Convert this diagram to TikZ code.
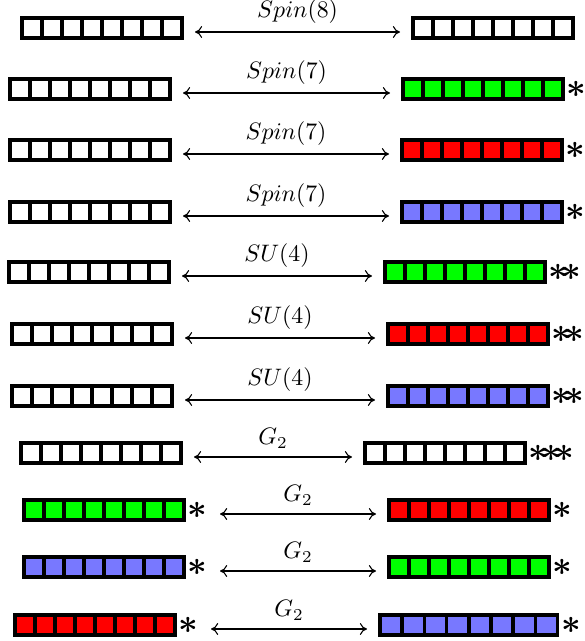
\documentclass[tikz,border=0pt]{standalone}
\usepackage{amsmath,amssymb,bm}
\usepackage{tikz}
\usetikzlibrary{positioning,arrows.meta}
\usepackage[dvipsnames]{xcolor}
\definecolor{cgreen}{RGB}{0,255,0}
\definecolor{cred}{RGB}{255,0,0}
\definecolor{cblue}{RGB}{120,120,255}

\tikzset{
  tabbox/.style = {rectangle, inner sep = 0pt, outer sep = 0pt,
                   minimum height = 24*0.42pt},
  cell/.style = {draw = black, line width = 3.5*0.42pt},
  stars/.style = {inner sep = 0.5pt, font = \Large\boldmath},
  link/.style = {{To[length=3pt,width=5pt]}-{To[length=3pt,width=5pt]}, line width = 0.45pt,
                 shorten <= 11*0.42pt, shorten >= 11*0.42pt}
}

% #1 cell width, #2 name, #3 left edge, #4 centre, #5 colour
\newcommand{\tableau}[5][20]{%
  \node[tabbox, minimum width = {(8*#1+4)*0.42pt}] (#2) at ({#3+4*#1+2},#4) {};
  \foreach \k in {0,...,7}
    \draw[cell, fill = #5] ({#3+2+#1*\k},{#4-10}) rectangle ++(#1,20);
}

\begin{document}
\begin{tikzpicture}[x = 0.42pt, y = -0.42pt]
\useasboundingbox (0,0) rectangle (584,641);

% Spin(8)
\tableau{L1}{20}{28}{white}
\tableau{R1}{411}{28}{white}
\draw[link] ([yshift = -4*0.42pt]L1.east) -- node[above] {$Spin(8)$} ([yshift = -4*0.42pt]R1.west);

% Spin(7)
\tableau{L2}{8}{89}{white}
\tableau{R2}{401}{89}{cgreen}
\node[stars, right = 0pt of R2] (R2s) {$\ast$};
\draw[link] ([yshift = -4*0.42pt]L2.east) -- node[above] {$Spin(7)$} ([yshift = -4*0.42pt]R2.west);

\tableau{L3}{8}{150}{white}
\tableau{R3}{400}{150}{cred}
\node[stars, right = 0pt of R3] (R3s) {$\ast$};
\draw[link] ([yshift = -4*0.42pt]L3.east) -- node[above] {$Spin(7)$} ([yshift = -4*0.42pt]R3.west);

\tableau{L4}{8}{212}{white}
\tableau{R4}{400}{212}{cblue}
\node[stars, right = 0pt of R4] (R4s) {$\ast$};
\draw[link] ([yshift = -4*0.42pt]L4.east) -- node[above] {$Spin(7)$} ([yshift = -4*0.42pt]R4.west);

% SU(4)
\tableau{L5}{7}{272}{white}
\tableau{R5}{383}{272}{cgreen}
\node[stars, right = 0pt of R5] (R5s) {${\ast}\!{\ast}$};
\draw[link] ([yshift = -4*0.42pt]L5.east) -- node[above] {$SU(4)$} ([yshift = -4*0.42pt]R5.west);

\tableau{L6}{10}{334}{white}
\tableau{R6}{386}{334}{cred}
\node[stars, right = 0pt of R6] (R6s) {${\ast}\!{\ast}$};
\draw[link] ([yshift = -4*0.42pt]L6.east) -- node[above] {$SU(4)$} ([yshift = -4*0.42pt]R6.west);

\tableau{L7}{10}{396}{white}
\tableau{R7}{386}{396}{cblue}
\node[stars, right = 0pt of R7] (R7s) {${\ast}\!{\ast}$};
\draw[link] ([yshift = -4*0.42pt]L7.east) -- node[above] {$SU(4)$} ([yshift = -4*0.42pt]R7.west);

% G2
\tableau{L8}{19}{453}{white}
\tableau{R8}{363}{453}{white}
\node[stars, right = 0pt of R8] (R8s) {${\ast}\!{\ast}\!{\ast}$};
\draw[link] ([yshift = -4*0.42pt]L8.east) -- node[above] {$G_2$} ([yshift = -4*0.42pt]R8.west);

\tableau{L9}{22}{510}{cgreen}
\node[stars, right = 0pt of L9] (L9s) {$\ast$};
\tableau{R9}{387}{510}{cred}
\node[stars, right = 0pt of R9] (R9s) {$\ast$};
\draw[link] ([yshift = -4*0.42pt]L9s.east) -- node[above] {$G_2$} ([yshift = -4*0.42pt]R9.west);

\tableau{L10}{22}{567}{cblue}
\node[stars, right = 0pt of L10] (L10s) {$\ast$};
\tableau{R10}{387}{567}{cgreen}
\node[stars, right = 0pt of R10] (R10s) {$\ast$};
\draw[link] ([yshift = -4*0.42pt]L10s.east) -- node[above] {$G_2$} ([yshift = -4*0.42pt]R10.west);

\tableau{L11}{13}{625}{cred}
\node[stars, right = 0pt of L11] (L11s) {$\ast$};
\tableau[22.2]{R11}{378}{625}{cblue}
\node[stars, right = 0pt of R11] (R11s) {$\ast$};
\draw[link] ([yshift = -4*0.42pt]L11s.east) -- node[above] {$G_2$} ([yshift = -4*0.42pt]R11.west);
\end{tikzpicture}
\end{document}
